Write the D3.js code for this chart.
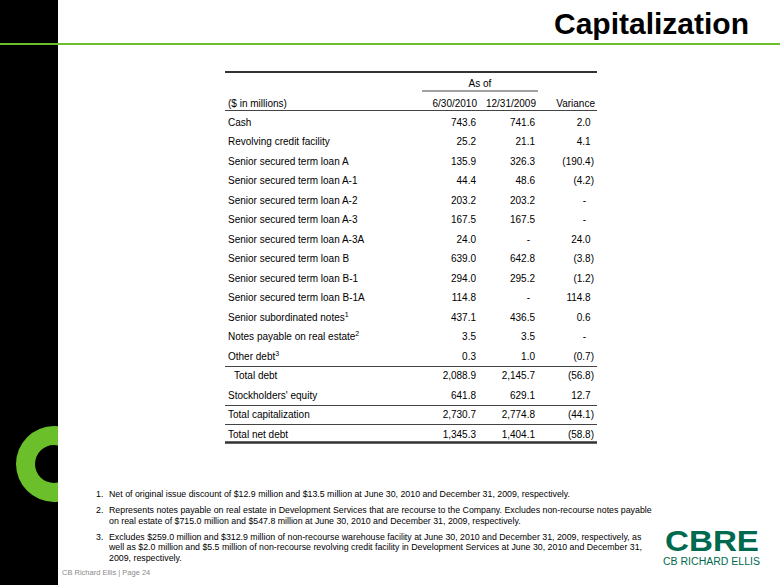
<!DOCTYPE html>
<html>
<head>
<meta charset="utf-8">
<script src="https://cdn.jsdelivr.net/npm/d3@7"></script>
<style>
  body { margin: 0; background: #fff; }
  svg { display: block; font-family: Arial, "Liberation Sans", sans-serif; }
</style>
</head>
<body>
<div id="slide"></div>
<script>
var width = 780, height = 585;

// table data
var rowLabels = ["Cash", "Revolving credit facility", "Senior secured term loan A",
  "Senior secured term loan A-1", "Senior secured term loan A-2", "Senior secured term loan A-3",
  "Senior secured term loan A-3A", "Senior secured term loan B", "Senior secured term loan B-1",
  "Senior secured term loan B-1A", "Senior subordinated notes", "Notes payable on real estate",
  "Other debt", "Total debt", "Stockholders' equity", "Total capitalization", "Total net debt"];
var noteMarks = ["", "", "", "", "", "", "", "", "", "", "1", "2", "3", "", "", "", ""];
var jun2010 = [743.6, 25.2, 135.9, 44.4, 203.2, 167.5, 24.0, 639.0, 294.0, 114.8, 437.1, 3.5, 0.3, 2088.9, 641.8, 2730.7, 1345.3];
var dec2009 = [741.6, 21.1, 326.3, 48.6, 203.2, 167.5, null, 642.8, 295.2, null, 436.5, 3.5, 1.0, 2145.7, 629.1, 2774.8, 1404.1];
var variance = [2.0, 4.1, -190.4, -4.2, null, null, 24.0, -3.8, -1.2, 114.8, 0.6, null, -0.7, -56.8, 12.7, -44.1, -58.8];
var columns = ["6/30/2010", "12/31/2009", "Variance"];
var rulesAfter = ["Other debt", "Stockholders' equity", "Total capitalization"];

var footnotes = [
  ["Net of original issue discount of $12.9 million and $13.5 million at June 30, 2010 and December 31, 2009, respectively."],
  ["Represents notes payable on real estate in Development Services that are recourse to the Company. Excludes non-recourse notes payable",
   "on real estate of $715.0  million and $547.8 million at June 30, 2010 and December 31, 2009, respectively."],
  ["Excludes $259.0  million and $312.9  million of non-recourse warehouse facility at June 30, 2010 and December 31, 2009, respectively, as",
   "well as $2.0 million and  $5.5 million of non-recourse revolving credit facility in Development Services at June 30, 2010 and December 31,",
   "2009, respectively."]
];

var svg = d3.select("#slide").append("svg")
  .attr("width", width)
  .attr("height", height);

// left black band with green ring
var bandW = 58;
svg.append("clipPath").attr("id", "band")
  .append("rect").attr("x", 0).attr("y", 0).attr("width", bandW).attr("height", height);
svg.append("rect").attr("x", 0).attr("y", 0).attr("width", bandW).attr("height", height).style("fill", "#000");
svg.append("g")
  .attr("clip-path", "url(#band)")
  .append("path")
  .attr("transform", "translate(54,464)")
  .attr("d", d3.arc().innerRadius(19).outerRadius(38).startAngle(0).endAngle(2 * Math.PI)())
  .style("fill", "#6abf2b");

// title
svg.append("line").attr("x1", 0).attr("x2", width).attr("y1", 44).attr("y2", 44)
  .style("stroke", "#6abf2b").style("stroke-width", 2);
svg.append("text").attr("x", 749).attr("y", 34)
  .attr("text-anchor", "end")
  .style("font-size", "30px").style("font-weight", "bold")
  .text("Capitalization");

// scales
var tableLeft = 225, tableRight = 597, labelX = 228;
var y = d3.scalePoint().domain(rowLabels).range([122.5, 434]);
var x = d3.scalePoint().domain(columns).range([476, 594]);
var fmt = d3.format(",.1f");
var parenW = 3.3;

function cellText(v) {
  if (v == null) return "-";
  return v < 0 ? "(" + fmt(-v) + ")" : fmt(v);
}
function cellX(col, v) {
  var r = x(col);
  if (v == null) return r - (col === "Variance" ? 8 : 5);
  if (col === "Variance" && v >= 0) return r - parenW;
  return r;
}

var tbl = svg.append("g").style("font-size", "10px").style("fill", "#000");

// header
tbl.append("line").attr("x1", tableLeft).attr("x2", tableRight).attr("y1", 72).attr("y2", 72)
  .style("stroke", "#333").style("stroke-width", 2);
tbl.append("text").attr("x", 480).attr("y", 86.5).attr("text-anchor", "middle").text("As of");
tbl.append("line").attr("x1", 422).attr("x2", 538).attr("y1", 91).attr("y2", 91)
  .style("stroke", "#444").style("stroke-width", 1);
tbl.append("text").attr("x", labelX).attr("y", 106.5).text("($ in millions)");
tbl.selectAll(".colhead").data(columns).enter().append("text")
  .attr("class", "colhead")
  .attr("x", function(d) { return x(d) + 1; })
  .attr("y", 106.5)
  .attr("text-anchor", "end")
  .text(function(d) { return d; });
tbl.append("line").attr("x1", tableLeft).attr("x2", tableRight).attr("y1", 110.5).attr("y2", 110.5)
  .style("stroke", "#444").style("stroke-width", 1);

// rows
var rows = tbl.selectAll(".row").data(rowLabels).enter().append("g")
  .attr("class", "row")
  .attr("transform", function(d) { return "translate(0," + (y(d) + 3.5) + ")"; });

var lbl = rows.append("text")
  .attr("x", function(d) { return d === "Total debt" ? labelX + 6 : labelX; });
lbl.append("tspan").text(function(d) { return d; });
lbl.append("tspan")
  .attr("dy", -4)
  .style("font-size", "7px")
  .text(function(d, i) { return noteMarks[i]; });

var series = [jun2010, dec2009, variance];
columns.forEach(function(col, c) {
  rows.append("text")
    .attr("x", function(d, i) { return cellX(col, series[c][i]); })
    .attr("text-anchor", "end")
    .text(function(d, i) { return cellText(series[c][i]); });
});

// rules
tbl.selectAll(".rule").data(rulesAfter).enter().append("line")
  .attr("class", "rule")
  .attr("x1", tableLeft).attr("x2", tableRight)
  .attr("y1", function(d) { return Math.round(y(d) + y.step() / 2) + 0.5; })
  .attr("y2", function(d) { return Math.round(y(d) + y.step() / 2) + 0.5; })
  .style("stroke", "#444").style("stroke-width", 1);
tbl.append("line").attr("x1", tableLeft).attr("x2", tableRight).attr("y1", 442.5).attr("y2", 442.5)
  .style("stroke", "#333").style("stroke-width", 2.5);

// footnotes
var fn = svg.append("g").style("font-size", "8.8px").style("fill", "#000");
var lineY = 497;
footnotes.forEach(function(lines, i) {
  fn.append("text").attr("x", 96).attr("y", lineY).text((i + 1) + ".");
  lines.forEach(function(t, j) {
    fn.append("text").attr("x", 109).attr("y", lineY + j * 10.3).text(t);
  });
  lineY += lines.length * 10.3 + 6;
});

// footer
svg.append("text").attr("x", 62).attr("y", 575)
  .style("font-size", "7.5px").style("fill", "#8a8a8a")
  .text("CB Richard Ellis  |  Page 24");

// logo
svg.append("text").attr("x", 665).attr("y", 551)
  .attr("textLength", 94).attr("lengthAdjust", "spacingAndGlyphs")
  .style("font-size", "30px").style("font-weight", "bold").style("fill", "#006a4e")
  .text("CBRE");
svg.append("text").attr("x", 663).attr("y", 565)
  .attr("textLength", 97).attr("lengthAdjust", "spacingAndGlyphs")
  .style("font-size", "10px").style("fill", "#006a4e")
  .text("CB RICHARD ELLIS");
</script>
</body>
</html>
